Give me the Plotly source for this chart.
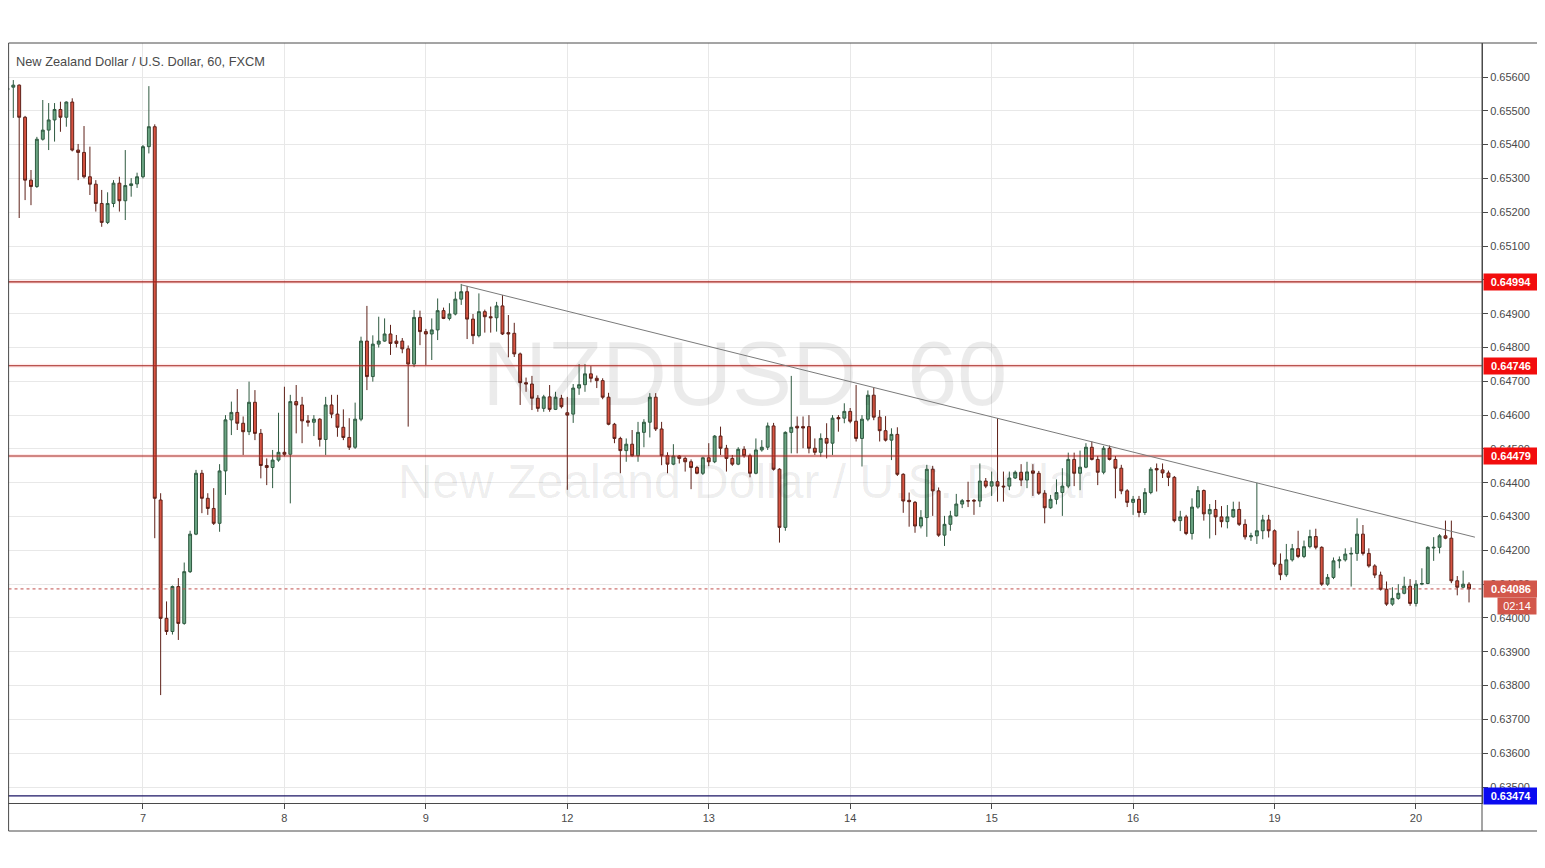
import plotly.graph_objects as go

# ---------------- data (NZD/USD, 60 min, FXCM) ----------------
opens = [0.65562,0.65570,0.65576,0.65481,0.65295,0.65276,0.65416,0.65443,0.65473,0.65504,
0.65481,0.65526,0.65384,0.65377,0.65305,0.65283,0.65226,0.65170,0.65226,0.65286,
0.65234,0.65279,0.65284,0.65305,0.65394,0.65453,0.64349,0.63999,0.63960,0.64093,
0.63984,0.64137,0.64248,0.64428,0.64354,0.64324,0.64280,0.64435,0.64586,0.64608,
0.64576,0.64551,0.64638,0.64546,0.64451,0.64445,0.64467,0.64490,0.64484,0.64640,
0.64630,0.64583,0.64579,0.64588,0.64528,0.64630,0.64603,0.64564,0.64534,0.64505,
0.64588,0.64819,0.64714,0.64810,0.64819,0.64840,0.64819,0.64819,0.64796,0.64751,
0.64889,0.64847,0.64840,0.64852,0.64909,0.64886,0.64899,0.64943,0.64965,0.64884,
0.64835,0.64906,0.64891,0.64888,0.64923,0.64844,0.64842,0.64781,0.64696,0.64692,
0.64650,0.64620,0.64654,0.64617,0.64650,0.64607,0.64603,0.64680,0.64690,0.64722,
0.64709,0.64702,0.64653,0.64573,0.64531,0.64495,0.64514,0.64480,0.64549,0.64579,
0.64653,0.64559,0.64480,0.64455,0.64479,0.64472,0.64462,0.64445,0.64428,0.64474,
0.64462,0.64538,0.64502,0.64472,0.64455,0.64499,0.64480,0.64428,0.64497,0.64505,
0.64568,0.64440,0.64268,0.64549,0.64567,0.64566,0.64566,0.64502,0.64490,0.64531,
0.64517,0.64593,0.64591,0.64611,0.64582,0.64531,0.64588,0.64659,0.64594,0.64554,
0.64526,0.64543,0.64425,0.64348,0.64342,0.64272,0.64297,0.64440,0.64376,0.64245,
0.64277,0.64302,0.64337,0.64347,0.64348,0.64346,0.64405,0.64390,0.64403,0.64390,
0.64390,0.64414,0.64431,0.64408,0.64435,0.64428,0.64369,0.64326,0.64351,0.64371,
0.64390,0.64469,0.64428,0.64446,0.64505,0.64469,0.64431,0.64502,0.64469,0.64443,
0.64376,0.64342,0.64351,0.64312,0.64371,0.64442,0.64438,0.64429,0.64416,0.64288,
0.64299,0.64250,0.64328,0.64377,0.64308,0.64321,0.64299,0.64285,0.64299,0.64321,
0.64277,0.64240,0.64243,0.64258,0.64290,0.64258,0.64159,0.64128,0.64172,0.64205,
0.64182,0.64211,0.64241,0.64209,0.64100,0.64120,0.64169,0.64172,0.64189,0.64191,
0.64248,0.64191,0.64154,0.64127,0.64085,0.64041,0.64058,0.64073,0.64094,0.64043,
0.64100,0.64102,0.64207,0.64209,0.64243,0.64236,0.64110,0.64091,0.64100]

highs = [0.65571,0.65591,0.65578,0.65485,0.65325,0.65423,0.65532,0.65523,0.65523,0.65527,
0.65528,0.65537,0.65402,0.65455,0.65394,0.65295,0.65266,0.65259,0.65295,0.65305,
0.65384,0.65301,0.65317,0.65399,0.65573,0.65460,0.64369,0.64049,0.64096,0.64118,
0.64164,0.64258,0.64438,0.64438,0.64369,0.64384,0.64455,0.64600,0.64640,0.64677,
0.64596,0.64699,0.64674,0.64559,0.64472,0.64497,0.64607,0.64684,0.64660,0.64689,
0.64654,0.64600,0.64600,0.64591,0.64654,0.64660,0.64660,0.64617,0.64591,0.64637,
0.64832,0.64923,0.64836,0.64891,0.64886,0.64867,0.64837,0.64828,0.64806,0.64911,
0.64909,0.64855,0.64886,0.64945,0.64918,0.64931,0.64965,0.64988,0.64982,0.64899,
0.64960,0.64912,0.64921,0.64935,0.64955,0.64896,0.64873,0.64785,0.64711,0.64716,
0.64659,0.64660,0.64689,0.64669,0.64660,0.64654,0.64692,0.64751,0.64751,0.64745,
0.64717,0.64709,0.64666,0.64577,0.64536,0.64531,0.64556,0.64580,0.64588,0.64665,
0.64665,0.64580,0.64490,0.64514,0.64482,0.64477,0.64469,0.64450,0.64477,0.64517,
0.64541,0.64566,0.64512,0.64482,0.64505,0.64508,0.64486,0.64531,0.64526,0.64578,
0.64577,0.64443,0.64552,0.64716,0.64596,0.64596,0.64600,0.64531,0.64546,0.64576,
0.64600,0.64600,0.64635,0.64621,0.64689,0.64600,0.64673,0.64682,0.64615,0.64597,
0.64561,0.64564,0.64428,0.64371,0.64346,0.64319,0.64453,0.64450,0.64386,0.64302,
0.64317,0.64367,0.64352,0.64403,0.64352,0.64457,0.64414,0.64433,0.64591,0.64433,
0.64433,0.64436,0.64455,0.64462,0.64455,0.64435,0.64378,0.64364,0.64410,0.64443,
0.64489,0.64489,0.64495,0.64517,0.64522,0.64479,0.64509,0.64510,0.64479,0.64453,
0.64381,0.64361,0.64361,0.64384,0.64446,0.64457,0.64457,0.64436,0.64420,0.64317,
0.64305,0.64354,0.64390,0.64380,0.64337,0.64349,0.64331,0.64334,0.64344,0.64344,
0.64292,0.64252,0.64400,0.64305,0.64305,0.64262,0.64191,0.64219,0.64219,0.64258,
0.64229,0.64261,0.64264,0.64212,0.64130,0.64179,0.64182,0.64206,0.64209,0.64295,
0.64275,0.64206,0.64159,0.64137,0.64108,0.64091,0.64100,0.64122,0.64115,0.64112,
0.64147,0.64212,0.64239,0.64248,0.64288,0.64288,0.64124,0.64140,0.64106]

lows = [0.65553,0.65479,0.65183,0.65236,0.65221,0.65272,0.65412,0.65384,0.65409,0.65438,
0.65453,0.65380,0.65295,0.65300,0.65251,0.65202,0.65157,0.65165,0.65215,0.65202,
0.65177,0.65246,0.65272,0.65300,0.65374,0.64236,0.63772,0.63950,0.63951,0.63935,
0.63980,0.64133,0.64245,0.64310,0.64305,0.64275,0.64255,0.64364,0.64541,0.64556,
0.64482,0.64541,0.64526,0.64413,0.64393,0.64384,0.64462,0.64478,0.64339,0.64546,
0.64517,0.64566,0.64538,0.64507,0.64482,0.64591,0.64536,0.64526,0.64497,0.64500,
0.64582,0.64674,0.64699,0.64800,0.64817,0.64778,0.64800,0.64783,0.64566,0.64742,
0.64807,0.64748,0.64763,0.64822,0.64884,0.64880,0.64895,0.64926,0.64825,0.64810,
0.64830,0.64844,0.64844,0.64847,0.64837,0.64771,0.64772,0.64630,0.64669,0.64615,
0.64610,0.64610,0.64610,0.64615,0.64620,0.64379,0.64577,0.64660,0.64669,0.64697,
0.64680,0.64647,0.64570,0.64517,0.64428,0.64462,0.64477,0.64462,0.64505,0.64534,
0.64553,0.64452,0.64428,0.64452,0.64457,0.64433,0.64381,0.64425,0.64423,0.64449,
0.64458,0.64482,0.64433,0.64450,0.64452,0.64474,0.64416,0.64425,0.64492,0.64497,
0.64436,0.64223,0.64258,0.64487,0.64487,0.64502,0.64487,0.64482,0.64477,0.64472,
0.64482,0.64551,0.64576,0.64576,0.64522,0.64448,0.64582,0.64585,0.64522,0.64522,
0.64467,0.64420,0.64311,0.64270,0.64252,0.64265,0.64240,0.64302,0.64240,0.64213,
0.64258,0.64300,0.64325,0.64328,0.64305,0.64328,0.64384,0.64361,0.64344,0.64344,
0.64378,0.64411,0.64390,0.64384,0.64361,0.64364,0.64280,0.64323,0.64336,0.64302,
0.64384,0.64390,0.64378,0.64443,0.64466,0.64393,0.64425,0.64466,0.64354,0.64366,
0.64328,0.64305,0.64298,0.64305,0.64366,0.64374,0.64414,0.64390,0.64283,0.64257,
0.64245,0.64232,0.64323,0.64288,0.64235,0.64245,0.64268,0.64265,0.64297,0.64272,
0.64232,0.64228,0.64219,0.64233,0.64238,0.64152,0.64112,0.64122,0.64167,0.64177,
0.64177,0.64206,0.64203,0.64095,0.64095,0.64115,0.64147,0.64167,0.64093,0.64169,
0.64185,0.64149,0.64118,0.64081,0.64036,0.64036,0.64054,0.64070,0.64036,0.64034,
0.64097,0.64100,0.64169,0.64191,0.64233,0.64103,0.64067,0.64088,0.64046]

closes = [0.65567,0.65576,0.65481,0.65295,0.65276,0.65416,0.65443,0.65473,0.65504,0.65481,
0.65526,0.65384,0.65377,0.65305,0.65283,0.65226,0.65170,0.65226,0.65286,0.65234,
0.65279,0.65284,0.65305,0.65394,0.65453,0.64354,0.63999,0.63960,0.64093,0.63984,
0.64137,0.64248,0.64428,0.64354,0.64324,0.64280,0.64435,0.64586,0.64608,0.64576,
0.64551,0.64638,0.64546,0.64451,0.64445,0.64467,0.64490,0.64484,0.64640,0.64630,
0.64583,0.64579,0.64588,0.64528,0.64630,0.64603,0.64564,0.64534,0.64505,0.64588,
0.64819,0.64714,0.64810,0.64819,0.64840,0.64812,0.64812,0.64796,0.64751,0.64889,
0.64847,0.64840,0.64852,0.64909,0.64886,0.64899,0.64943,0.64965,0.64884,0.64835,
0.64906,0.64891,0.64888,0.64923,0.64840,0.64840,0.64781,0.64696,0.64692,0.64650,
0.64620,0.64654,0.64617,0.64653,0.64625,0.64600,0.64680,0.64690,0.64722,0.64709,
0.64702,0.64653,0.64573,0.64531,0.64495,0.64514,0.64480,0.64549,0.64579,0.64653,
0.64559,0.64480,0.64455,0.64479,0.64472,0.64462,0.64445,0.64428,0.64474,0.64462,
0.64538,0.64502,0.64472,0.64455,0.64499,0.64480,0.64428,0.64497,0.64505,0.64568,
0.64440,0.64268,0.64549,0.64564,0.64562,0.64562,0.64502,0.64490,0.64531,0.64517,
0.64591,0.64589,0.64611,0.64582,0.64531,0.64588,0.64659,0.64594,0.64554,0.64526,
0.64543,0.64425,0.64346,0.64344,0.64272,0.64297,0.64440,0.64376,0.64245,0.64277,
0.64302,0.64337,0.64347,0.64346,0.64346,0.64405,0.64390,0.64403,0.64390,0.64388,
0.64414,0.64431,0.64408,0.64432,0.64428,0.64369,0.64326,0.64351,0.64371,0.64390,
0.64469,0.64428,0.64446,0.64505,0.64469,0.64431,0.64502,0.64469,0.64443,0.64376,
0.64342,0.64351,0.64312,0.64371,0.64440,0.64438,0.64429,0.64416,0.64288,0.64299,
0.64250,0.64328,0.64377,0.64308,0.64321,0.64299,0.64285,0.64299,0.64321,0.64277,
0.64240,0.64243,0.64258,0.64290,0.64258,0.64159,0.64128,0.64172,0.64205,0.64182,
0.64211,0.64241,0.64209,0.64100,0.64120,0.64169,0.64172,0.64189,0.64191,0.64248,
0.64191,0.64154,0.64127,0.64085,0.64041,0.64058,0.64073,0.64094,0.64043,0.64100,
0.64102,0.64209,0.64209,0.64243,0.64236,0.64110,0.64091,0.64100,0.64086]

bar_index = list(range(len(closes)))

day_labels = ["7", "8", "9", "12", "13", "14", "15", "16", "19", "20"]
day_start_index = [23, 47, 71, 95, 119, 143, 167, 191, 215, 239]

resistance_levels = [0.64994, 0.64746, 0.64479]
support_level = 0.63474
last_price = 0.64086
countdown = "02:14"

trend_x = [77.1, 249.0]
trend_y = [0.64985, 0.64239]

y_ticks = [round(0.635 + 0.001 * k, 3) for k in range(22)]

title_text = "New Zealand Dollar / U.S. Dollar, 60, FXCM"
wm_symbol = "NZDUSD, 60"
wm_name = "New Zealand Dollar / U.S. Dollar"

# ---------------- figure ----------------
X_RANGE = [0.1, 250.2]
Y_RANGE = [0.634528, 0.657006]
FONT = "Liberation Sans, Arial, sans-serif"

W, H = 1531, 852          # page body adds an 8px offset
PLOT_W, PLOT_H = 1474, 760
ML, MT = 0, 35

fig = go.Figure()

# watermark (behind everything)
fig.add_trace(go.Scatter(x=[125.1], y=[0.64697], mode="text", text=[wm_symbol],
                         textfont=dict(family=FONT, size=90, color="rgba(0,0,0,0.08)"),
                         hoverinfo="skip", showlegend=False))
fig.add_trace(go.Scatter(x=[125.1], y=[0.64390], mode="text", text=[wm_name],
                         textfont=dict(family=FONT, size=48, color="rgba(0,0,0,0.08)"),
                         hoverinfo="skip", showlegend=False))

xl = [X_RANGE[0] - 5, X_RANGE[1] + 5]
# resistance lines with a soft glow
for lv in resistance_levels:
    fig.add_trace(go.Scatter(x=xl, y=[lv, lv], mode="lines",
                             line=dict(color="rgba(255,90,90,0.13)", width=4),
                             hoverinfo="skip", showlegend=False))
    fig.add_trace(go.Scatter(x=xl, y=[lv, lv], mode="lines",
                             line=dict(color="#a3221d", width=1.1),
                             hoverinfo="skip", showlegend=False))
fig.add_trace(go.Scatter(x=xl, y=[support_level, support_level], mode="lines",
                         line=dict(color="#1b1464", width=1.4),
                         hoverinfo="skip", showlegend=False))
fig.add_trace(go.Scatter(x=xl, y=[last_price, last_price], mode="lines",
                         line=dict(color="#c0504d", width=1, dash="dot"),
                         hoverinfo="skip", showlegend=False))

fig.add_trace(go.Candlestick(
    x=bar_index, open=opens, high=highs, low=lows, close=closes,
    increasing=dict(fillcolor="#6ba583", line=dict(color="#2f5a40", width=1)),
    decreasing=dict(fillcolor="#d75442", line=dict(color="#5e2018", width=1)),
    whiskerwidth=0, showlegend=False, hoverinfo="skip"))

fig.add_trace(go.Scatter(x=trend_x, y=trend_y, mode="lines",
                         line=dict(color="#7a7a7a", width=1),
                         hoverinfo="skip", showlegend=False))

# ---------------- annotations ----------------
ann = []
ann.append(dict(xref="paper", yref="paper", x=0, y=1, xanchor="left", yanchor="top",
                xshift=6, yshift=-9, text=title_text, showarrow=False,
                font=dict(family=FONT, size=12.8, color="#4a4a4a")))

def price_box(price, text, bg):
    return dict(xref="paper", yref="y", x=1, y=price, xanchor="left", yanchor="middle",
                xshift=1, text="<b>%s</b>" % text, showarrow=False, bgcolor=bg,
                width=52, height=14, borderpad=1, align="center",
                font=dict(family=FONT, size=11, color="white"))

for lv in resistance_levels:
    ann.append(price_box(lv, "%.5f" % lv, "#f20d0d"))
ann.append(price_box(support_level, "%.5f" % support_level, "#0a0af0"))
ann.append(price_box(last_price, "%.5f" % last_price, "#d2574b"))
ann.append(dict(xref="paper", yref="y", x=(1529 - ML) / PLOT_W, y=last_price,
                xanchor="right", yanchor="middle", yshift=-17,
                text=countdown, showarrow=False, bgcolor="#d2574b",
                width=36, height=14, borderpad=1, align="center",
                font=dict(family=FONT, size=11, color="white")))

# ---------------- frame ----------------
bottom_paper = -(823 - (MT + PLOT_H)) / PLOT_H
right_paper = (1529.5 - ML) / PLOT_W
left_paper = 0.6 / PLOT_W
shapes = [
    dict(type="rect", xref="paper", yref="paper", x0=left_paper, x1=right_paper,
         y0=bottom_paper, y1=1, line=dict(color="#4a4a4a", width=1)),
    dict(type="line", xref="paper", yref="paper", x0=1, x1=1, y0=bottom_paper, y1=1,
         line=dict(color="#4a4a4a", width=1)),
]

fig.update_layout(
    width=W, height=H,
    margin=dict(l=ML, r=W - ML - PLOT_W, t=MT, b=H - MT - PLOT_H, pad=0),
    paper_bgcolor="white", plot_bgcolor="white",
    showlegend=False, annotations=ann, shapes=shapes,
    font=dict(family=FONT, size=11, color="#4a4a4a"),
    xaxis=dict(range=X_RANGE, tickvals=day_start_index, ticktext=day_labels,
               showgrid=True, gridcolor="#e8e8e8", gridwidth=1, zeroline=False,
               showline=True, linecolor="#4a4a4a", linewidth=1,
               ticks="outside", ticklen=5, tickcolor="#4a4a4a",
               tickfont=dict(family=FONT, size=11, color="#4a4a4a"),
               rangeslider=dict(visible=False), fixedrange=True),
    yaxis=dict(range=Y_RANGE, side="right", tickvals=y_ticks, tickformat=".5f",
               showgrid=True, gridcolor="#e8e8e8", gridwidth=1, zeroline=False,
               showline=True, linecolor="#4a4a4a", linewidth=1,
               ticks="outside", ticklen=5, tickcolor="#4a4a4a",
               tickfont=dict(family=FONT, size=11, color="#4a4a4a"), fixedrange=True),
)

fig.write_html("out.html")
